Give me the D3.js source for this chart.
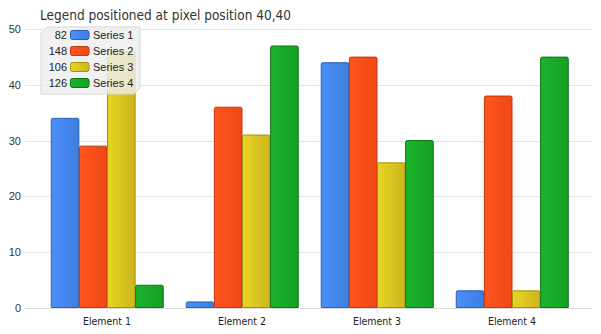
<!DOCTYPE html>
<html><head><meta charset="utf-8">
<script src="https://cdn.jsdelivr.net/npm/d3@7"></script>
<style>body{margin:0;background:#fff}svg{display:block}</style>
</head><body>
<svg id="c" width="601" height="334"></svg>
<script>
const categories = ["Element 1", "Element 2", "Element 3", "Element 4"];
const seriesNames = ["Series 1", "Series 2", "Series 3", "Series 4"];
const series1 = [34, 1, 44, 3];
const series2 = [29, 36, 45, 38];
const series3 = [46, 31, 26, 3];
const series4 = [4, 47, 30, 45];
const yTicks = [0, 10, 20, 30, 40, 50];
const colors = [
  {a:"#4b8ff8", b:"#3d7ddf", s:"#2c5fb5"},
  {a:"#ff551c", b:"#ef4818", s:"#c2360e"},
  {a:"#e6d625", b:"#cdb51c", s:"#a3920e"},
  {a:"#1bb42b", b:"#16a024", s:"#0d7316"}
];
const allSeries = [series1, series2, series3, series4];

const svg = d3.select("#c");
const pLeft = 25, pRight = 592, pTop = 29.3, pBottom = 307.5;

const x0 = d3.scaleBand().domain(categories).range([pLeft + 1, pRight + 1]).paddingInner(0.1667).paddingOuter(0.1833);
const x1 = d3.scaleBand().domain(seriesNames).range([0, x0.bandwidth()]).padding(0);
const y = d3.scaleLinear().domain([0, 50]).range([pBottom, pTop]);

const defs = svg.append("defs");
colors.forEach((c, i) => {
  const g = defs.append("linearGradient").attr("id", "g" + i).attr("x1", 0).attr("x2", 1).attr("y1", 0).attr("y2", 0);
  g.append("stop").attr("offset", 0).attr("stop-color", c.a);
  g.append("stop").attr("offset", 1).attr("stop-color", c.b);
});

// gridlines
svg.append("g").selectAll("line").data(yTicks.filter(d => d > 0)).join("line")
  .attr("x1", pLeft).attr("x2", pRight)
  .attr("y1", d => Math.round(y(d)) + 0.5).attr("y2", d => Math.round(y(d)) + 0.5)
  .attr("stroke", "#e4e4e4");

// y axis labels
const ya = svg.append("g").attr("transform", `translate(${pLeft},0)`)
  .call(d3.axisLeft(y).tickValues(yTicks).tickSize(0).tickPadding(4));
ya.select(".domain").remove();
ya.selectAll("text").attr("font-family", "Liberation Sans, Arial, sans-serif").attr("font-size", 11).attr("fill", "#333");

// x axis
const xa = svg.append("g").attr("transform", `translate(0,${Math.round(pBottom) + 0.5})`)
  .call(d3.axisBottom(x0).tickSize(4).tickPadding(5).tickSizeOuter(0));
xa.select(".domain").attr("stroke", "#dcdcdc").attr("d", `M${pLeft},0H${pRight}`);
xa.selectAll(".tick line").attr("stroke", "#dcdcdc");
xa.selectAll("text").attr("font-family", "DejaVu Sans Condensed, DejaVu Sans, sans-serif").attr("font-size", 10.5).attr("fill", "#222");

// bars
function barPath(x, y0, w, h, r) {
  r = Math.min(r, h, w / 2);
  return `M${x},${y0 + h}V${y0 + r}Q${x},${y0} ${x + r},${y0}H${x + w - r}Q${x + w},${y0} ${x + w},${y0 + r}V${y0 + h}Z`;
}
const gBars = svg.append("g");
allSeries.forEach((vals, si) => {
  gBars.append("g").selectAll("path").data(vals).join("path")
    .attr("d", (v, i) => {
      const bx = x0(categories[i]) + x1(seriesNames[si]) + 0.5;
      const by = y(v);
      return barPath(bx, by, x1.bandwidth() - 0.5, y(0) - by, 1.5);
    })
    .attr("fill", `url(#g${si})`)
    .attr("stroke", colors[si].s).attr("stroke-width", 1);
});

// legend
const totals = allSeries.map(s => d3.sum(s));
const lg = svg.append("g").attr("transform", "translate(41,27)");
const lw = 99, lh = 67, ch = 6;
lg.append("path")
  .attr("d", `M${ch},0H${lw}V${lh - ch}L${lw - ch},${lh}H0V${ch}Z`)
  .attr("fill", "#eeeeee").attr("fill-opacity", 0.82).attr("stroke", "#d6d6d6");
const rows = lg.selectAll("g.r").data(seriesNames).join("g").attr("class", "r")
  .attr("transform", (d, i) => `translate(0,${8 + i * 16})`);
rows.append("text").attr("x", 26).attr("y", 4).attr("text-anchor", "end")
  .attr("font-family", "Liberation Sans, Arial, sans-serif").attr("font-size", 11).attr("fill", "#222")
  .text((d, i) => totals[i]);
rows.append("rect").attr("x", 29.5).attr("y", -4.5).attr("width", 18.5).attr("height", 9).attr("rx", 2)
  .attr("fill", (d, i) => `url(#g${i})`).attr("stroke", (d, i) => colors[i].s);
rows.append("text").attr("x", 52).attr("y", 4)
  .attr("font-family", "Liberation Sans, Arial, sans-serif").attr("font-size", 11).attr("fill", "#222")
  .text(d => d);

// title
svg.append("text").attr("x", 40).attr("y", 20)
  .attr("font-family", "DejaVu Sans Condensed, DejaVu Sans, sans-serif").attr("font-size", 13.5).attr("fill", "#333")
  .text("Legend positioned at pixel position 40,40");
</script>
</body></html>
